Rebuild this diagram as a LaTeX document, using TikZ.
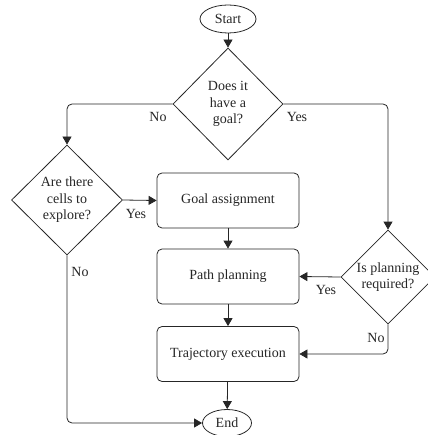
\documentclass[tikz,border=0pt]{standalone}
\usepackage{fontspec}
\setmainfont{Liberation Serif}
\usetikzlibrary{shapes.geometric,arrows.meta}
\begin{document}
\begin{tikzpicture}[x=1pt,y=-1pt,
  every node/.style={font=\fontsize{14}{16.5}\selectfont, text=black!85},
  terminal/.style={draw=black!85, line width=0.8pt, ellipse, inner sep=0pt},
  process/.style={draw=black!85, line width=0.8pt, rounded corners=5pt,
    minimum width=142pt, minimum height=55pt, inner sep=0pt},
  decision/.style={draw=black!85, line width=0.8pt, diamond, inner sep=0pt},
  qtext/.style={align=center, inner sep=0pt},
  lbl/.style={inner sep=0pt},
  flow/.style={draw=black!85, line width=0.8pt, rounded corners=5pt,
    -{Triangle[length=8pt,width=9pt]}}]
\useasboundingbox (0,0) rectangle (427,435);

% terminals
\node[terminal, minimum width=56pt, minimum height=28pt] (start) at (228,19) {Start};
\node[terminal, minimum width=49pt, minimum height=27pt] (end) at (227,423) {End};

% decisions
\node[decision, minimum width=110pt, minimum height=112pt] (goal) at (228,104) {};
\node[qtext] at (goal.center) {Does it\\have a\\goal?};
\node[decision, minimum width=111pt, minimum height=110pt] (cells) at (67,200) {};
\node[qtext] at (cells.center) {Are there\\cells to\\explore?};
\node[decision, minimum width=94pt, minimum height=94pt] (plan) at (388,277) {};
\node[qtext] at (plan.center) {Is planning\\required?};

% processes
\node[process] (assign) at (228,200.5) {Goal assignment};
\node[process] (path) at (228,276.5) {Path planning};
\node[process] (traj) at (228,354) {Trajectory execution};

% connectors
\draw[flow] (start) -- (goal.north);
\draw[flow] (goal.west) -| (cells.north);
\draw[flow] (goal.east) -| (plan.north);
\draw[flow] (cells.east) -- (assign.west);
\draw[flow] (cells.south) |- (end.west);
\draw[flow] (assign) -- (path);
\draw[flow] (path) -- (traj);
\draw[flow] (traj) -- (end);
\draw[flow] (plan.west) -- (path.east);
\draw[flow] (plan.south) |- (traj.east);

% branch labels
\node[lbl] at (158,117) {No};
\node[lbl] at (297,117) {Yes};
\node[lbl] at (136,214) {Yes};
\node[lbl] at (80,272) {No};
\node[lbl] at (326,290) {Yes};
\node[lbl] at (376,338) {No};
\end{tikzpicture}
\end{document}
